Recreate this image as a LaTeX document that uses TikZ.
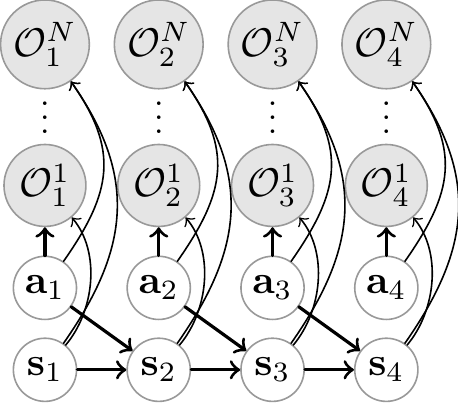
\documentclass[tikz,border=0pt]{standalone}
\usepackage{amsmath}
\usepackage{tikz}

\begin{document}
\begin{tikzpicture}[
  >=to, line cap=round, line join=round,
  var/.style={circle, draw=gray!80, fill=white, inner sep=1pt,
              minimum size=5.55mm},
  obs/.style={var, fill=gray!20, minimum size=7.2mm},
  obsn/.style={obs, minimum size=7.8mm},
  gap/.style={inner sep=0pt, scale=0.85},
  dep/.style={->, thick},
  lnk/.style={->}]

\useasboundingbox (-0.395,-0.285) rectangle (3.63,3.25);

\node[var] (s1) at (0,0) {$\mathbf{s}_1$};
\node[var] (s2) at (1,0) {$\mathbf{s}_2$};
\node[var] (s3) at (2,0) {$\mathbf{s}_3$};
\node[var] (s4) at (3,0) {$\mathbf{s}_4$};

\node[var] (a1) at (0,0.72) {$\mathbf{a}_1$};
\node[var] (a2) at (1,0.72) {$\mathbf{a}_2$};
\node[var] (a3) at (2,0.72) {$\mathbf{a}_3$};
\node[var] (a4) at (3,0.72) {$\mathbf{a}_4$};

\node[obs] (lo1) at (0,1.62) {$\mathcal{O}_1^1$};
\node[obs] (lo2) at (1,1.62) {$\mathcal{O}_2^1$};
\node[obs] (lo3) at (2,1.62) {$\mathcal{O}_3^1$};
\node[obs] (lo4) at (3,1.62) {$\mathcal{O}_4^1$};

\node[gap] (d1) at (0,2.305) {$\vdots$};
\node[gap] (d2) at (1,2.305) {$\vdots$};
\node[gap] (d3) at (2,2.305) {$\vdots$};
\node[gap] (d4) at (3,2.305) {$\vdots$};

\node[obsn] (hi1) at (0,2.86) {$\mathcal{O}_1^N$};
\node[obsn] (hi2) at (1,2.86) {$\mathcal{O}_2^N$};
\node[obsn] (hi3) at (2,2.86) {$\mathcal{O}_3^N$};
\node[obsn] (hi4) at (3,2.86) {$\mathcal{O}_4^N$};

\draw[dep] (s1) -- (s2);
\draw[dep] (s2) -- (s3);
\draw[dep] (s3) -- (s4);
\draw[dep] (a1) -- (s2);
\draw[dep] (a2) -- (s3);
\draw[dep] (a3) -- (s4);

\draw[dep] (a1) -- (lo1);
\draw[dep] (a2) -- (lo2);
\draw[dep] (a3) -- (lo3);
\draw[dep] (a4) -- (lo4);

\draw[lnk] (s1) to[out=50, in=-50, looseness=0.9] (lo1);
\draw[lnk] (s2) to[out=50, in=-50, looseness=0.9] (lo2);
\draw[lnk] (s3) to[out=50, in=-50, looseness=0.9] (lo3);
\draw[lnk] (s4) to[out=50, in=-50, looseness=0.9] (lo4);

\draw[lnk] (s1) to[out=55, in=-55, looseness=1.13] (hi1);
\draw[lnk] (s2) to[out=55, in=-55, looseness=1.13] (hi2);
\draw[lnk] (s3) to[out=55, in=-55, looseness=1.13] (hi3);
\draw[lnk] (s4) to[out=55, in=-55, looseness=1.13] (hi4);

\draw[lnk] (a1) to[out=55, in=-55, looseness=1.2] (hi1);
\draw[lnk] (a2) to[out=55, in=-55, looseness=1.2] (hi2);
\draw[lnk] (a3) to[out=55, in=-55, looseness=1.2] (hi3);
\draw[lnk] (a4) to[out=55, in=-55, looseness=1.2] (hi4);

\end{tikzpicture}
\end{document}
